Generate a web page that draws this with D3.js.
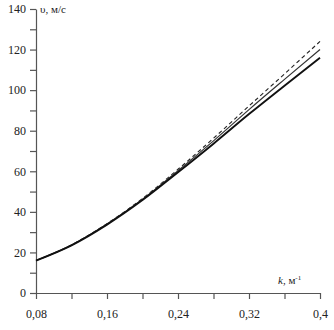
<!DOCTYPE html>
<html lang="ru">
<head>
<meta charset="UTF-8">
<title>v(k)</title>
<style>
  body { margin: 0; background: #fff; }
  svg text { font-family: "Liberation Serif", "DejaVu Serif", serif; fill: #222; }
</style>
</head>
<body>
<div id="chart"></div>
<script src="https://d3js.org/d3.v7.min.js"></script>
<script>
const kValues = [0.08, 0.12, 0.16, 0.20, 0.24, 0.28, 0.32, 0.36, 0.40]
const vThick  = [16, 23.5, 33.7, 45.8, 59.5, 73.6, 88.2, 102.2, 116]
const vThin   = [16, 23.6, 34.0, 46.2, 60.3, 75.0, 90.4, 105.3, 120]
const vDashed = [16, 23.7, 34.2, 46.6, 61.0, 76.3, 92.2, 108.0, 124]
const xLabelTicks = [0.08, 0.16, 0.24, 0.32, 0.4]
const yLabelTicks = [0, 20, 40, 60, 80, 100, 120, 140]

const chartWidth = 334
const chartHeight = 330
const padLeft = 36, padRight = 320, padTop = 9, padBottom = 293

const svg = d3.select('#chart')
  .append('svg')
  .attr('width', chartWidth)
  .attr('height', chartHeight)

const x = d3.scaleLinear().domain([0.08, 0.4]).range([padLeft, padRight])
const y = d3.scaleLinear().domain([0, 140]).range([padBottom, padTop])

const fmt = d => String(+d.toFixed(2)).replace('.', ',')

// x axis: minor ticks every 0.04, labels every 0.08
const xAxis = svg.append('g')
  .attr('transform', `translate(0, ${padBottom})`)
  .call(d3.axisBottom(x).tickValues(d3.range(0.08, 0.4001, 0.04)).tickSize(6).tickSizeOuter(0)
    .tickFormat(d => xLabelTicks.some(t => Math.abs(t - d) < 1e-6) ? fmt(d) : ''))
xAxis.selectAll('text').attr('dy', '1.3em').style('font-size', '12px')

// y axis: minor every 10
const yAxis = svg.append('g')
  .attr('transform', `translate(${padLeft}, 0)`)
  .call(d3.axisLeft(y).tickValues(d3.range(0, 141, 10)).tickSize(6).tickSizeOuter(0)
    .tickFormat(d => yLabelTicks.includes(d) ? d : ''))
yAxis.selectAll('text').attr('x', -10).style('font-size', '12px')

svg.selectAll('.domain, .tick line').attr('stroke', '#555').attr('stroke-width', 1.2)

const line = vals => d3.line()
  .x((d, i) => x(kValues[i]))
  .y(d => y(d))
  .curve(d3.curveMonotoneX)(vals)

svg.append('path').attr('d', line(vDashed))
  .attr('fill', 'none').attr('stroke', '#222').attr('stroke-width', 1.1)
  .attr('stroke-dasharray', '4,3')
svg.append('path').attr('d', line(vThin))
  .attr('fill', 'none').attr('stroke', '#333').attr('stroke-width', 1.2)
svg.append('path').attr('d', line(vThick))
  .attr('fill', 'none').attr('stroke', '#111').attr('stroke-width', 1.9)

// axis titles
svg.append('text')
  .attr('x', padLeft + 4).attr('y', padTop + 4)
  .style('font-size', '11px')
  .text('υ, м/с')

const kt = svg.append('text')
  .attr('x', 278).attr('y', padBottom - 9)
  .style('font-size', '11px')
kt.append('tspan').style('font-style', 'italic').text('k')
kt.append('tspan').text(', м')
kt.append('tspan').attr('dy', -4).style('font-size', '7px').text('-1')
</script>
</body>
</html>
